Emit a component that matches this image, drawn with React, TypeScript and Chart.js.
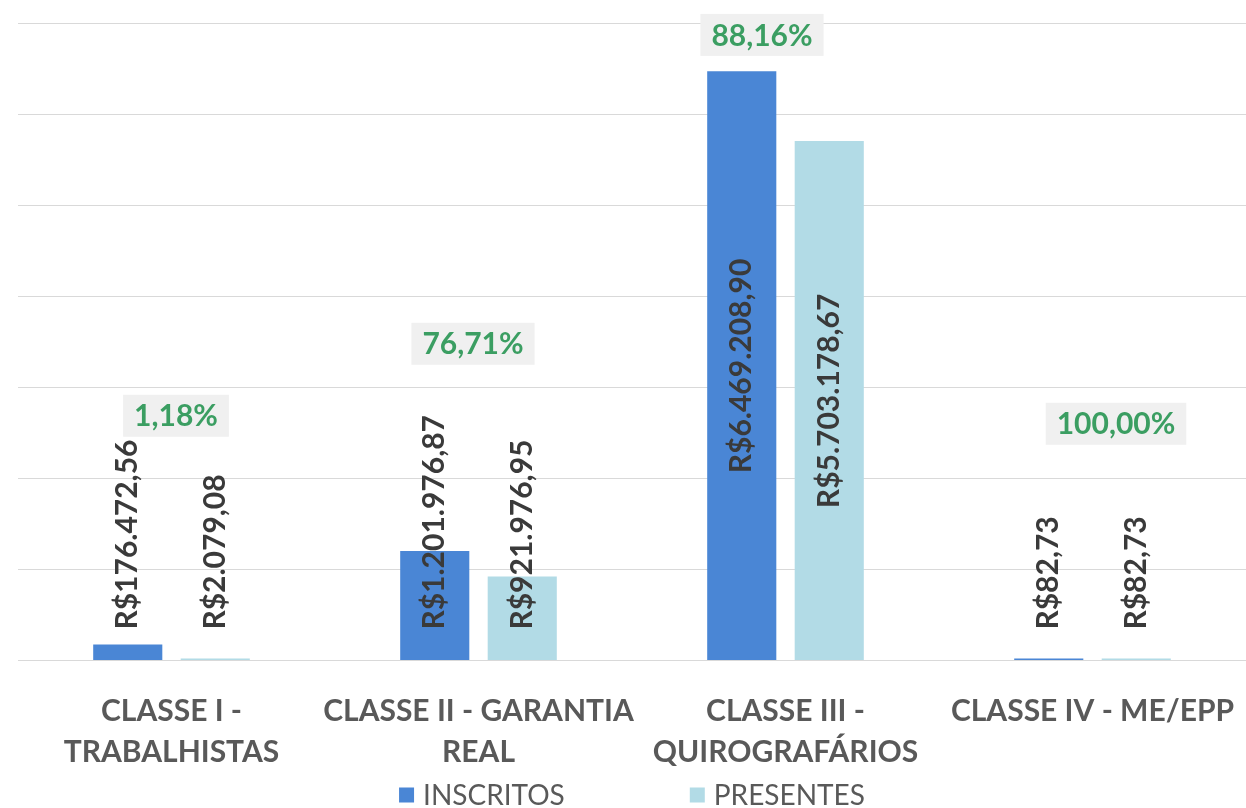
import React, { useEffect, useRef } from "react";
import { Chart, registerables } from "chart.js";

Chart.register(...registerables);

const categories: string[][] = [
  ["CLASSE I -", "TRABALHISTAS"],
  ["CLASSE II - GARANTIA", "REAL"],
  ["CLASSE III -", "QUIROGRAFÁRIOS"],
  ["CLASSE IV - ME/EPP"],
];
const seriesNames = ["INSCRITOS", "PRESENTES"];
const inscritos = [176472.56, 1201976.87, 6469208.9, 82.73];
const presentes = [2079.08, 921976.95, 5703178.67, 82.73];
const percentLabels = ["1,18%", "76,71%", "88,16%", "100,00%"];
// where each percentage note sits (value on the y scale, shift in px from category centre)
const percentAnchorValue = [2688000, 3478000, 6869000, 2600000];
const percentShiftPx = [4.5, -5.5, -23.5, 23.5];
const yMax = 7000000;
const yStep = 1000000;

const COLORS = ["#4a86d5", "#b2dbe6"];
const FONT = "Lato, 'Open Sans', sans-serif";

function brl(v: number): string {
  const fixed = v.toFixed(2);
  const [intPart, dec] = fixed.split(".");
  const withDots = intPart.replace(/\B(?=(\d{3})+(?!\d))/g, ".");
  return "R$" + withDots + "," + dec;
}

const barLabelPlugin = {
  id: "barLabels",
  afterDatasetsDraw(chart: any) {
    const ctx = chart.ctx;
    const base = chart.scales.y.getPixelForValue(0);
    chart.data.datasets.forEach((ds: any, di: number) => {
      const meta = chart.getDatasetMeta(di);
      meta.data.forEach((bar: any, i: number) => {
        const text = brl(ds.data[i]);
        ctx.save();
        ctx.font = `bold 30px ${FONT}`;
        ctx.fillStyle = "#3a3a3a";
        const w = ctx.measureText(text).width;
        const h = base - bar.y;
        let cy: number;
        if (w + 20 < h) cy = (bar.y + base) / 2;
        else cy = base - 31 - w / 2;
        ctx.translate(bar.x, cy);
        ctx.rotate(-Math.PI / 2);
        ctx.textAlign = "center";
        ctx.textBaseline = "middle";
        ctx.fillText(text, 0, 0);
        ctx.restore();
      });
    });
  },
};

const percentPlugin = {
  id: "percentNotes",
  afterDraw(chart: any) {
    const ctx = chart.ctx;
    const xs = chart.scales.x;
    const ys = chart.scales.y;
    percentLabels.forEach((t, i) => {
      const cx = xs.getPixelForValue(i) + percentShiftPx[i];
      const cy = ys.getPixelForValue(percentAnchorValue[i]);
      ctx.save();
      ctx.font = `bold 30px ${FONT}`;
      const w = ctx.measureText(t).width;
      const bw = w + 22;
      const bh = 42;
      ctx.fillStyle = "#f0f0f0";
      ctx.fillRect(cx - bw / 2, cy - bh / 2, bw, bh);
      ctx.fillStyle = "#3b9e62";
      ctx.textAlign = "center";
      ctx.textBaseline = "middle";
      ctx.fillText(t, cx, cy + 1);
      ctx.restore();
    });
  },
};

const legendPlugin = {
  id: "bottomLegend",
  afterDraw(chart: any) {
    const ctx = chart.ctx;
    const area = chart.chartArea;
    const y = 795;
    const box = 15;
    const gapBoxText = 9;
    const gapItems = 125;
    ctx.save();
    ctx.font = `28px ${FONT}`;
    const widths = seriesNames.map((n) => box + gapBoxText + ctx.measureText(n).width);
    const total = widths[0] + gapItems + widths[1];
    let x = (area.left + area.right) / 2 - total / 2;
    seriesNames.forEach((n, i) => {
      ctx.fillStyle = COLORS[i];
      ctx.fillRect(x, y - box / 2, box, box);
      ctx.fillStyle = "#595959";
      ctx.textAlign = "left";
      ctx.textBaseline = "middle";
      ctx.fillText(n, x + box + gapBoxText, y + 1);
      x += widths[i] + gapItems;
    });
    ctx.restore();
  },
};

export default function App() {
  const ref = useRef<HTMLCanvasElement | null>(null);
  useEffect(() => {
    if (!ref.current) return;
    const chart = new Chart(ref.current, {
      type: "bar",
      data: {
        labels: categories as any,
        datasets: [
          { label: seriesNames[0], data: inscritos, backgroundColor: COLORS[0], barPercentage: 0.79, categoryPercentage: 0.57, minBarLength: 2 },
          { label: seriesNames[1], data: presentes, backgroundColor: COLORS[1], barPercentage: 0.79, categoryPercentage: 0.57, minBarLength: 2 },
        ],
      },
      options: {
        animation: false,
        responsive: true,
        maintainAspectRatio: false,
        layout: { padding: { left: 18, right: 0, top: 23, bottom: 28 } },
        plugins: { legend: { display: false }, tooltip: { enabled: false } },
        scales: {
          x: {
            grid: { display: false, drawTicks: true, tickLength: 23 },
            border: { display: false },
            ticks: {
              color: "#595959",
              font: { family: FONT, size: 30, weight: "bold", lineHeight: 1.34 },
              padding: 8,
              maxRotation: 0,
              autoSkip: false,
            },
          },
          y: {
            min: 0,
            max: yMax,
            ticks: { display: false, stepSize: yStep },
            grid: { color: "#d9d9d9", lineWidth: 1, drawTicks: false },
            border: { display: false },
          },
        },
      },
      plugins: [barLabelPlugin, percentPlugin, legendPlugin],
    });
    return () => chart.destroy();
  }, []);
  return (
    <div style={{ position: "absolute", left: 0, top: 0, width: 1246, height: 808, background: "#fff" }}>
      <canvas ref={ref} />
    </div>
  );
}
